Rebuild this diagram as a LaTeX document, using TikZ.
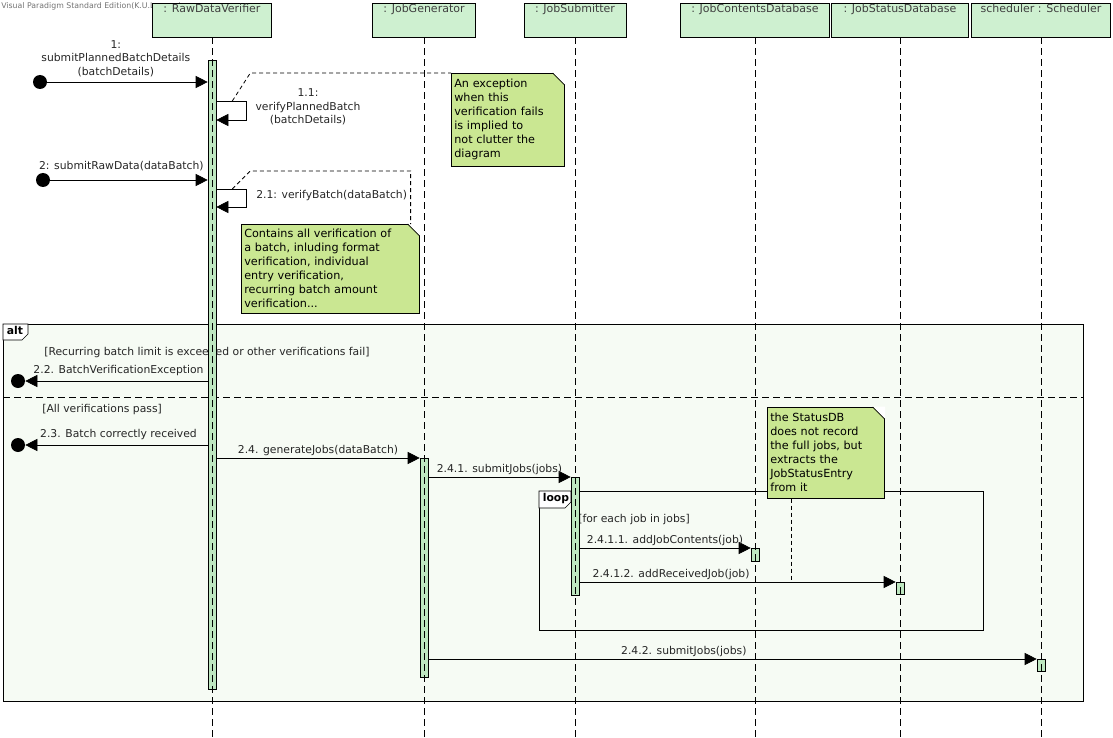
\documentclass[tikz,border=0pt]{standalone}
\usepackage{fontspec}
\setmainfont{DejaVu Sans}
\usetikzlibrary{arrows.meta, positioning}
\definecolor{headgreen}{RGB}{206,240,208}
\definecolor{notegreen}{RGB}{202,231,146}
\definecolor{framegreen}{RGB}{246,251,244}
\definecolor{actgreen}{RGB}{190,231,192}
\tikzstyle{head} = [draw, fill=headgreen, inner xsep=0pt, inner ysep=2pt, text height=8pt, text depth=22pt, font=\fontsize{11}{13}\selectfont, text=black!75]
\tikzstyle{lifeline} = [dash pattern=on 7pt off 4pt]
\tikzstyle{activation} = [draw, fill=actgreen, minimum width=8pt, inner sep=0pt, anchor=north]
\tikzstyle{msg} = [-{Triangle[length=12pt, width=12pt]}]
\tikzstyle{msglabel} = [font=\fontsize{10.8}{13.5}\selectfont, text=black!85, inner sep=2pt]
\tikzstyle{endpoint} = [fill, circle, minimum size=14pt, inner sep=0pt]
\tikzstyle{note} = [draw, fill=notegreen, anchor=north west, align=left, inner sep=3pt, font=\fontsize{11.2}{14}\selectfont]
\tikzstyle{anchorline} = [line width=0.8pt, dash pattern=on 4pt off 3pt]
\tikzstyle{frame} = [draw, fill=framegreen, anchor=north west, inner sep=0pt]
\tikzstyle{tab} = [anchor=north west, inner sep=1.5pt, font=\fontsize{10.8}{12}\selectfont\bfseries]
\tikzstyle{guard} = [anchor=west, inner sep=0pt, font=\fontsize{10.8}{12}\selectfont, text=black!85]

\begin{document}
\begin{tikzpicture}[x=1pt, y=-1pt, line width=0.6pt]
    \useasboundingbox (0, 0) rectangle (1113, 738);

    \node (mark) [anchor=west, inner sep=0pt, font=\fontsize{7.8}{9}\selectfont, text=black!55] at (1, 6) {Visual Paradigm Standard Edition(K.U.Leuven)};

    % Lifeline heads.
    \node (rdv) [head, minimum width=119pt] at (212, 20) {: RawDataVerifier};
    \node (jg) [head, minimum width=103pt] at (424, 20) {: JobGenerator};
    \node (js) [head, minimum width=102pt] at (575, 20) {: JobSubmitter};
    \node (jcd) [head, minimum width=149pt] at (755, 20) {: JobContentsDatabase};
    \node (jsd) [head, minimum width=137pt] at (900, 20) {: JobStatusDatabase};
    \node (sch) [head, minimum width=139pt] at (1041, 20) {scheduler : Scheduler};

    % Combined fragments.
    \node (alt) [frame, minimum width=1080pt, minimum height=377pt] at (3, 324) {};
    \draw [fill=white] (alt.north west) -- ++(0, 16) -- ++(19, 0) -- ++(6, -6) -- ++(0, -10) -- cycle;
    \node (alt tab) [tab] at ([xshift=2pt]alt.north west) {alt};
    \draw [lifeline] (alt.west |- 0, 397) -- (alt.east |- 0, 397);

    \node (loop) [frame, minimum width=444pt, minimum height=139pt] at (539, 491) {};
    \draw [fill=white] (loop.north west) -- ++(0, 17) -- ++(26, 0) -- ++(6, -6) -- ++(0, -11) -- cycle;
    \node (loop tab) [tab] at ([xshift=2pt]loop.north west) {loop};

    \node (guard a) [guard] at (44, 353) {[Recurring batch limit is exceeded or other verifications fail]};
    \node (guard b) [guard] at (42, 410) {[All verifications pass]};
    \node (guard c) [guard] at (578, 520) {[for each job in jobs]};

    % Activations.
    \node (act rdv) [activation, minimum height=629pt] at (rdv.south |- 0, 60) {};
    \node (act jg) [activation, minimum height=219pt] at (jg.south |- 0, 458) {};
    \node (act js) [activation, minimum height=118pt] at (js.south |- 0, 477) {};
    \node (act jcd) [activation, minimum height=13pt] at (jcd.south |- 0, 548) {};
    \node (act jsd) [activation, minimum height=12pt] at (jsd.south |- 0, 582) {};
    \node (act sch) [activation, minimum height=12pt] at (sch.south |- 0, 659) {};

    \foreach \n in {rdv, jg, js, jcd, jsd, sch} {
        \draw [lifeline] (\n.south) -- (\n.south |- 0, 738);
    }

    % Notes.
    \node (note a) [note, text width=107pt, minimum height=93pt] at (451, 73) {An exception\\when this\\verification fails\\is implied to\\not clutter the\\diagram};
    \node (note b) [note, text width=172pt, minimum height=89pt] at (241, 224) {Contains all verification of\\a batch, inluding format\\verification, individual\\entry verification,\\recurring batch amount\\verification...};
    \node (note c) [note, text width=111pt, minimum height=91pt] at (767, 407) {the StatusDB\\does not record\\the full jobs, but\\extracts the\\JobStatusEntry\\from it};

    \foreach \n in {note a, note b, note c} {
        \fill [white] ([xshift=-12pt, yshift=0.5pt]\n.north east) -- ([xshift=0.5pt, yshift=0.5pt]\n.north east) -- ([xshift=0.5pt, yshift=-12pt]\n.north east) -- cycle;
        \draw ([xshift=-12pt]\n.north east) -- ([yshift=-12pt]\n.north east);
    }

    % Messages.
    \node (src 1) [endpoint] at (40, 82) {};
    \draw [msg] (src 1.center) -- (src 1 -| act rdv.west)
        node (lbl 1) [msglabel, midway, above, xshift=-8pt, yshift=3pt, align=center] {1:\\submitPlannedBatchDetails\\(batchDetails)};

    \coordinate (s11) at (act rdv.east |- 0, 101);
    \draw [msg] (s11) -- ++(30, 0) -- ++(0, 19) -- ++(-30, 0);
    \node (lbl 11) [msglabel, align=center] at (308, 107) {1.1:\\verifyPlannedBatch\\(batchDetails)};
    \draw [anchorline] ([xshift=16pt]s11) -- ++(18, -28) -- (note a.north west);

    \node (src 2) [endpoint] at (43, 180) {};
    \draw [msg] (src 2.center) -- (src 2 -| act rdv.west)
        node (lbl 2) [msglabel, midway, above, xshift=-4pt, yshift=7pt] {2: submitRawData(dataBatch)};

    \coordinate (s21) at (act rdv.east |- 0, 189);
    \draw [msg] (s21) -- ++(30, 0) -- ++(0, 18) -- ++(-30, 0);
    \node (lbl 21) [msglabel, anchor=west] at (254, 196) {2.1: verifyBatch(dataBatch)};
    \draw [anchorline] ([xshift=16pt]s21) -- ++(18, -18) -| ([xshift=-9pt]note b.north east);

    \node (dst 22) [endpoint] at (18, 381) {};
    \draw [msg] (act rdv.west |- dst 22) -- (dst 22)
        node (lbl 22) [msglabel, midway, above, xshift=2pt, yshift=3pt] {2.2. BatchVerificationException};

    \node (dst 23) [endpoint] at (18, 445) {};
    \draw [msg] (act rdv.west |- dst 23) -- (dst 23)
        node (lbl 23) [msglabel, midway, above, xshift=2pt, yshift=3pt] {2.3. Batch correctly received};

    \draw [msg] (act rdv.east |- 0, 458) -- (act jg.west |- 0, 458)
        node (lbl 24) [msglabel, midway, above] {2.4. generateJobs(dataBatch)};

    \draw [msg] (act jg.east |- act js.north) -- (act js.north west)
        node (lbl 241) [msglabel, midway, above] {2.4.1. submitJobs(jobs)};

    \draw [msg] (act js.east |- act jcd.north) -- (act jcd.north west)
        node (lbl 2411) [msglabel, midway, above] {2.4.1.1. addJobContents(job)};

    \draw [msg] (act js.east |- act jsd.north) -- (act jsd.north west)
        node (lbl 2412) [msglabel, pos=0.29, above] {2.4.1.2. addReceivedJob(job)};
    \draw [anchorline] ([xshift=-34pt]note c.south) -- ([xshift=-34pt]note c.south |- act jsd.north);

    \draw [msg] (act jg.east |- act sch.north) -- (act sch.north west)
        node (lbl 242) [msglabel, pos=0.42, above] {2.4.2. submitJobs(jobs)};
\end{tikzpicture}
\end{document}
